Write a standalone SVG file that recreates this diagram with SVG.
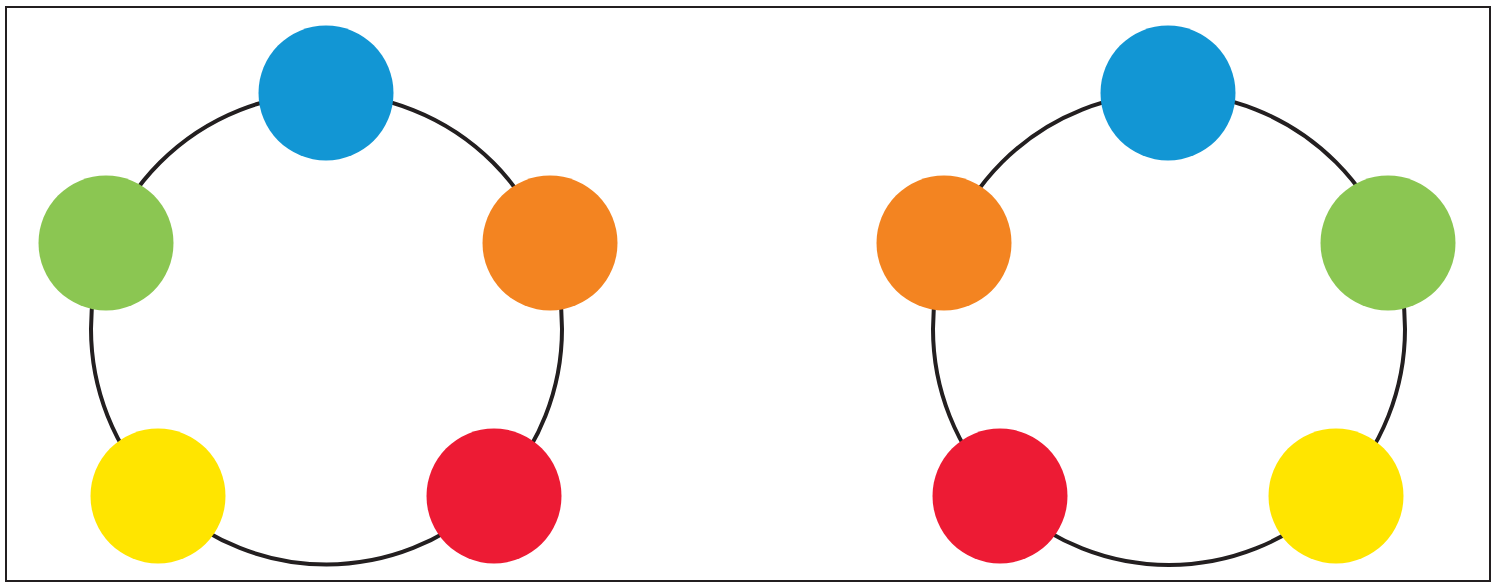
<svg xmlns="http://www.w3.org/2000/svg" width="1496" height="583" viewBox="0 0 1496 583">
<style>
.ring{fill:none;stroke:#231f20;stroke-width:4}
.blue{fill:#1296d4}.green{fill:#8bc652}.orange{fill:#f38421}.yellow{fill:#ffe500}.red{fill:#ed1b34}
</style>
<rect x="6" y="7" width="1484" height="574" fill="#fff" stroke="#231f20" stroke-width="2"/>
<g id="connectors">
<circle class="ring" cx="326.5" cy="329" r="235.5"/>
<circle class="ring" cx="1169" cy="329" r="236"/>
</g>
<g id="left-blue"><circle class="blue" cx="326" cy="93" r="67.5"/></g>
<g id="left-green"><circle class="green" cx="106" cy="243" r="67.5"/></g>
<g id="left-orange"><circle class="orange" cx="550" cy="243" r="67.5"/></g>
<g id="left-yellow"><circle class="yellow" cx="158" cy="496" r="67.5"/></g>
<g id="left-red"><circle class="red" cx="494" cy="496" r="67.5"/></g>
<g id="right-blue"><circle class="blue" cx="1168" cy="93" r="67.5"/></g>
<g id="right-orange"><circle class="orange" cx="944" cy="243" r="67.5"/></g>
<g id="right-green"><circle class="green" cx="1388" cy="243" r="67.5"/></g>
<g id="right-red"><circle class="red" cx="1000" cy="496" r="67.5"/></g>
<g id="right-yellow"><circle class="yellow" cx="1336" cy="496" r="67.5"/></g>
</svg>
